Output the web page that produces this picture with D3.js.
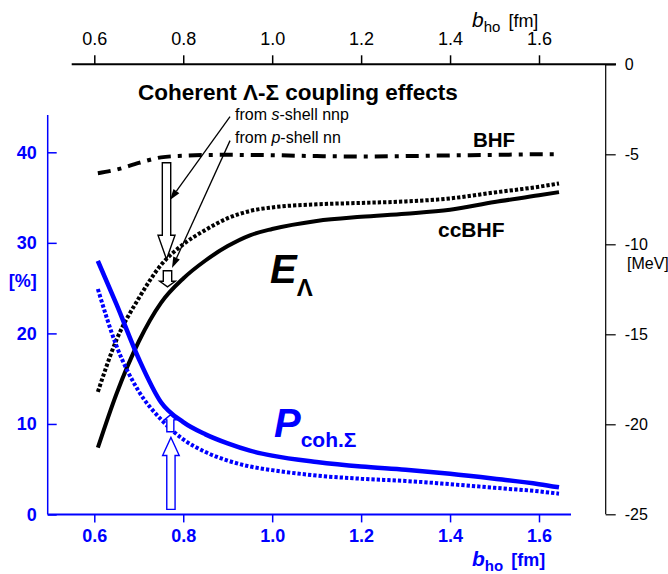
<!DOCTYPE html>
<html><head><meta charset="utf-8">
<script src="https://cdn.jsdelivr.net/npm/d3@7"></script>
<style>
body{margin:0;background:#fff}
svg{display:block}
text{font-family:"Liberation Sans",Arial,sans-serif}
</style>
</head><body>
<svg id="c" width="668" height="574"></svg>
<script>
// ---- data ----
const bho = [0.608,0.65,0.7,0.75,0.8,0.85,0.9,0.95,1.0,1.1,1.2,1.3,1.4,1.5,1.6,1.645];
const eBHF      = [-6.05,-5.85,-5.48,-5.17,-5.08,-5.04,-5.03,-5.04,-5.05,-5.1,-5.12,-5.1,-5.06,-5.03,-5.0,-5.0];
const eCcBHFs   = [-18.2,-15.3,-13.0,-11.15,-10.0,-9.2,-8.55,-8.15,-7.95,-7.78,-7.7,-7.62,-7.45,-7.12,-6.8,-6.62];
const eCcBHF    = [-21.3,-18.3,-15.4,-13.25,-11.9,-10.9,-10.1,-9.5,-9.15,-8.7,-8.47,-8.3,-8.08,-7.65,-7.28,-7.1];
const pCoh      = [28.0,23.2,17.2,12.4,10.2,8.85,7.85,7.05,6.5,5.8,5.3,4.95,4.5,3.95,3.35,3.0];
const pCohS     = [24.9,18.6,13.6,10.5,8.3,6.9,5.95,5.3,4.9,4.3,3.95,3.7,3.35,2.95,2.55,2.3];
const xTicks = [0.6,0.8,1.0,1.2,1.4,1.6];
const pTicks = [0,10,20,30,40];
const eTicks = [0,-5,-10,-15,-20,-25];
// annotation arrows (data units)
const hollowE = [
  {b:0.7624, from:-5.47, to:-10.83, shaft:8.4, head:17, headLen:24},
  {b:0.7646, from:-11.47, to:-12.36, shaft:8.4, head:15.5, headLen:5.5}
];
const hollowP = [
  {b:0.7723, from:0.57, to:8.5, shaft:8.3, head:16.6, headLen:18},
  {b:0.771, from:9.14, to:11.0, shaft:7, head:12, headLen:5}
];
const leaders = [
  {b0:0.9052, e0:-2.91, b1:0.7702, e1:-7.54},
  {b0:0.9052, e0:-4.24, b1:0.7747, e1:-11.32}
];

const BLUE = "#0000ff";
const svg = d3.select("#c");
const x = d3.scaleLinear().domain([0.6,1.6]).range([94.3,539]);
const yP = d3.scaleLinear().domain([0,40]).range([514.5,152.3]);
const yE = d3.scaleLinear().domain([-25,0]).range([514.3,64.3]);

// ---- axes ----
const gTop = svg.append("g").attr("transform","translate(0,64.3)")
  .call(d3.axisTop(x).tickValues(xTicks).tickFormat(d3.format(".1f")).tickSize(9).tickPadding(10));
gTop.select(".domain").remove();
gTop.selectAll(".tick line").attr("stroke","#000").attr("stroke-width",1.5);
gTop.selectAll(".tick text").attr("font-size",18).attr("fill","#000").attr("font-family","Liberation Sans, Arial");
svg.append("line").attr("x1",71.7).attr("x2",616).attr("y1",64.3).attr("y2",64.3).attr("stroke","#000").attr("stroke-width",2);

const gR = svg.append("g").attr("transform","translate(605.7,0)")
  .call(d3.axisRight(yE).tickValues(eTicks).tickFormat(d=>d).tickSize(10).tickPadding(9));
gR.select(".domain").remove();
gR.selectAll(".tick line").attr("stroke","#000").attr("stroke-width",1.2);
gR.selectAll(".tick text").attr("font-size",16).attr("fill","#000").attr("font-family","Liberation Sans, Arial");
svg.append("line").attr("x1",605.7).attr("x2",605.7).attr("y1",64.3).attr("y2",514.3).attr("stroke","#000").attr("stroke-width",1.2);
svg.append("text").attr("x",627).attr("y",269).attr("font-size",16).text("[MeV]");

const gL = svg.append("g").attr("transform","translate(47.7,0)")
  .call(d3.axisLeft(yP).tickValues(pTicks).tickSize(-9).tickPadding(11));
gL.select(".domain").remove();
gL.selectAll(".tick line").attr("stroke",BLUE).attr("stroke-width",1.5);
gL.selectAll(".tick text").attr("font-size",18).attr("font-weight","bold").attr("fill",BLUE).attr("font-family","Liberation Sans, Arial");
svg.append("line").attr("x1",47.7).attr("x2",47.7).attr("y1",115).attr("y2",514.5).attr("stroke",BLUE).attr("stroke-width",1.5);
svg.append("text").attr("x",36.7).attr("y",287).attr("text-anchor","end").attr("font-size",18).attr("font-weight","bold").attr("fill",BLUE).text("[%]");

const gB = svg.append("g").attr("transform","translate(0,514.4)")
  .call(d3.axisBottom(x).tickValues(xTicks).tickFormat(d3.format(".1f")).tickSize(8).tickPadding(7));
gB.select(".domain").remove();
gB.selectAll(".tick line").attr("stroke",BLUE).attr("stroke-width",1.5);
gB.selectAll(".tick text").attr("font-size",18).attr("font-weight","bold").attr("fill",BLUE).attr("font-family","Liberation Sans, Arial");
svg.append("line").attr("x1",47.7).attr("x2",571).attr("y1",514.4).attr("y2",514.4).attr("stroke",BLUE).attr("stroke-width",2);

function bTitle(xp, yp, color, bold){
  const t = svg.append("text").attr("x",xp).attr("y",yp).attr("font-size",18).attr("fill",color)
    .attr("font-weight",bold?"bold":"normal");
  t.append("tspan").attr("font-style","italic").attr("font-size",21).text("b");
  t.append("tspan").attr("dy",5).attr("font-size",15).text("ho");
  t.append("tspan").attr("dy",-5).attr("dx",8).text("[fm]");
}
bTitle(472, 27, "#000", false);
bTitle(472, 566, BLUE, true);

// ---- curves ----
const lineE = vals => d3.line().x((d,i)=>x(bho[i])).y(d=>yE(d)).curve(d3.curveMonotoneX)(vals);
const lineP = vals => d3.line().x((d,i)=>x(bho[i])).y(d=>yP(d)).curve(d3.curveMonotoneX)(vals);

svg.append("path").attr("d",lineE(eBHF)).attr("fill","none").attr("stroke","#000").attr("stroke-width",4).attr("stroke-dasharray","13,7,4,7");
svg.append("path").attr("d",lineE(eCcBHFs)).attr("fill","none").attr("stroke","#000").attr("stroke-width",4).attr("stroke-dasharray","3.3,2");
svg.append("path").attr("d",lineE(eCcBHF)).attr("fill","none").attr("stroke","#000").attr("stroke-width",4);
svg.append("path").attr("d",lineP(pCohS)).attr("fill","none").attr("stroke",BLUE).attr("stroke-width",4).attr("stroke-dasharray","3.3,2");
svg.append("path").attr("d",lineP(pCoh)).attr("fill","none").attr("stroke",BLUE).attr("stroke-width",4.5);

// ---- hollow arrows ----
function hollow(cx, yFrom, yTo, shaft, head, headLen, color){
  const dir = yTo > yFrom ? 1 : -1;
  const hb = yTo - dir*headLen;
  const pts = [[cx-shaft/2,yFrom],[cx+shaft/2,yFrom],[cx+shaft/2,hb],[cx+head/2,hb],[cx,yTo],[cx-head/2,hb],[cx-shaft/2,hb]];
  svg.append("path").attr("d","M"+pts.map(p=>p.join(",")).join("L")+"Z")
    .attr("fill","#fff").attr("stroke",color).attr("stroke-width",1.4).attr("stroke-linejoin","miter");
}
hollowE.forEach(a=>hollow(x(a.b), yE(a.from), yE(a.to), a.shaft, a.head, a.headLen, "#000"));
hollowP.forEach(a=>hollow(x(a.b), yP(a.from), yP(a.to), a.shaft, a.head, a.headLen, BLUE));

// ---- leader arrows ----
leaders.forEach(l=>{
  const x0=x(l.b0), y0=yE(l.e0), x1=x(l.b1), y1=yE(l.e1);
  const ang = Math.atan2(y1-y0, x1-x0);
  const L=11, W=3.6;
  const bx = x1 - L*Math.cos(ang), by = y1 - L*Math.sin(ang);
  svg.append("line").attr("x1",x0).attr("y1",y0).attr("x2",bx).attr("y2",by).attr("stroke","#000").attr("stroke-width",1.3);
  const p1=[bx+W*Math.sin(ang), by-W*Math.cos(ang)], p2=[bx-W*Math.sin(ang), by+W*Math.cos(ang)];
  svg.append("path").attr("d",`M${x1},${y1}L${p1}L${p2}Z`).attr("fill","#000");
});

// ---- labels ----
svg.append("text").attr("x",138).attr("y",100).attr("font-size",22.5).attr("font-weight","bold").text("Coherent Λ-Σ coupling effects");
const s1 = svg.append("text").attr("x",235).attr("y",120).attr("font-size",16);
s1.append("tspan").text("from ");
s1.append("tspan").attr("font-style","italic").text("s");
s1.append("tspan").text("-shell nnp");
const s2 = svg.append("text").attr("x",235).attr("y",143).attr("font-size",16);
s2.append("tspan").text("from ");
s2.append("tspan").attr("font-style","italic").text("p");
s2.append("tspan").text("-shell nn");
svg.append("text").attr("x",473).attr("y",146.5).attr("font-size",20.5).attr("font-weight","bold").text("BHF");
svg.append("text").attr("x",438).attr("y",237).attr("font-size",21).attr("font-weight","bold").text("ccBHF");
const eL = svg.append("text").attr("x",270).attr("y",283).attr("font-weight","bold");
eL.append("tspan").attr("font-size",40).attr("font-style","italic").text("E");
eL.append("tspan").attr("font-size",24).attr("dy",13).attr("dx",0).text("Λ");
const pL = svg.append("text").attr("x",274).attr("y",437).attr("font-weight","bold").attr("fill",BLUE);
pL.append("tspan").attr("font-size",40).attr("font-style","italic").text("P");
pL.append("tspan").attr("font-size",21).attr("dy",10).attr("dx",0).text("coh.Σ");
</script>
</body></html>
